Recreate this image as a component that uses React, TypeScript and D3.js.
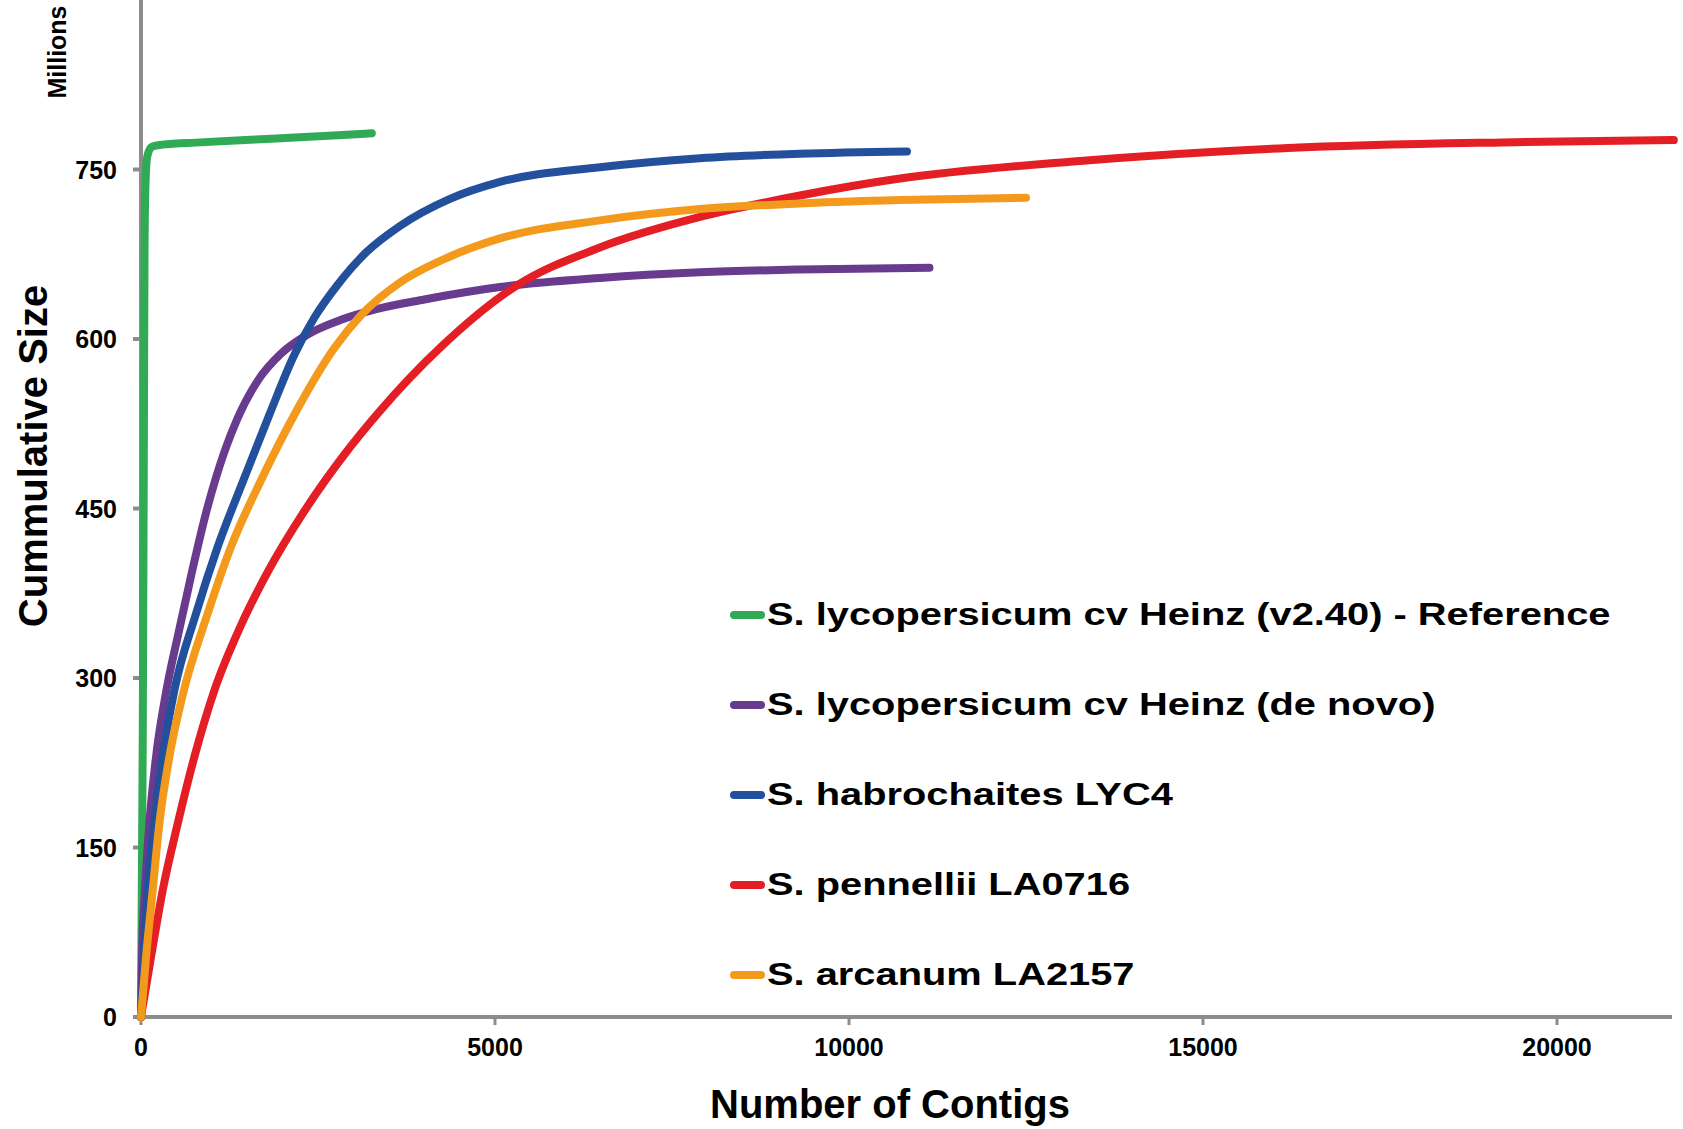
import React from "react";
import * as d3 from "d3";

// ---- data (contigs, cumulative size in millions) ----
const xTicks = [0, 5000, 10000, 15000, 20000];
const yTicks = [0, 150, 300, 450, 600, 750];

const seriesNames = [
  "S. lycopersicum cv Heinz (v2.40) - Reference",
  "S. lycopersicum cv Heinz (de novo)",
  "S. habrochaites LYC4",
  "S. pennellii LA0716",
  "S. arcanum LA2157",
];
const seriesColors = ["#31aa55", "#683b8f", "#22509d", "#e31e25", "#f39a1d"];

const heinzReference: [number, number][] = [
  [0, 0], [25, 250], [40, 500], [50, 680], [65, 740], [90, 762], [150, 770],
  [300, 772], [833, 774], [1775, 777], [2716, 780], [3260, 782],
];
const heinzDeNovo: [number, number][] = [
  [0, 0], [14, 53], [56, 112], [118, 171], [212, 230], [353, 287], [530, 340],
  [706, 390], [918, 446], [1177, 500], [1365, 530], [1648, 563], [1977, 587],
  [2354, 604], [2825, 617], [3296, 626], [4002, 635], [5070, 646], [6482, 654],
  [7895, 659], [9307, 661.5], [11137, 663],
];
const habrochaites: [number, number][] = [
  [0, 0], [94, 112], [188, 171], [306, 230], [471, 289], [777, 357], [1083, 416],
  [1459, 477], [1813, 533], [2166, 586], [2450, 619], [2778, 648], [3187, 677],
  [3658, 700], [4364, 724], [5070, 739], [6482, 752], [7895, 760], [9307, 764],
  [10819, 766],
];
const pennellii: [number, number][] = [
  [0, 0], [141, 53], [306, 112], [518, 171], [753, 230], [1036, 289], [1400, 345],
  [1800, 395], [2300, 447], [2900, 500], [3343, 534], [4237, 593], [5300, 647],
  [6482, 681], [7895, 708], [9307, 727], [10719, 742], [13167, 757],
  [16200, 769], [19230, 774], [21650, 776],
];
const arcanum: [number, number][] = [
  [0, 0], [71, 53], [165, 112], [259, 171], [400, 230], [589, 285], [942, 357],
  [1271, 416], [1695, 475], [2166, 533], [2731, 592], [3107, 621], [3658, 650],
  [4364, 673], [5070, 689], [6482, 705], [7895, 715], [9307, 720],
  [10719, 723], [12500, 725],
];

const seriesData = [heinzReference, heinzDeNovo, habrochaites, pennellii, arcanum];

const FONT = "'Liberation Sans', Arial, Helvetica, sans-serif";
const AXIS = "#8c8c8c";

export default function App() {
  const W = 1683;
  const H = 1129;
  const x0 = 141;
  const xEnd = 1672;
  const yTop = 0;
  const yBottom = 1017;

  const x = d3.scaleLinear().domain([0, 5000]).range([x0, x0 + 354]);
  const y = d3.scaleLinear().domain([0, 900]).range([yBottom, yTop]);

  const line = d3
    .line<[number, number]>()
    .x((d) => x(d[0]))
    .y((d) => y(d[1]))
    .curve(d3.curveMonotoneX);

  const legendX = 730;
  const legendY0 = 625;
  const legendStep = 90;

  return (
    <svg
      width={W}
      height={H}
      style={{ position: "absolute", left: 0, top: 0, display: "block", background: "#fff" }}
      fontFamily={FONT}
      fontWeight="bold"
    >
      <rect x={0} y={0} width={W} height={H} fill="#fff" />

      {/* axes */}
      <line x1={x0} x2={x0} y1={0} y2={yBottom + 2} stroke={AXIS} strokeWidth={4} />
      <line x1={x0 - 2} x2={xEnd} y1={yBottom} y2={yBottom} stroke={AXIS} strokeWidth={4} />

      {yTicks.map((t) => (
        <g key={"y" + t}>
          <line x1={x0 - 8} x2={x0} y1={y(t)} y2={y(t)} stroke={AXIS} strokeWidth={4} />
          <text x={117} y={y(t)} dy="0.36em" textAnchor="end" fontSize={25} fill="#000">
            {t}
          </text>
        </g>
      ))}
      {xTicks.map((t) => (
        <g key={"x" + t}>
          <line x1={x(t)} x2={x(t)} y1={yBottom} y2={yBottom + 8} stroke={AXIS} strokeWidth={3} />
          <text x={x(t)} y={1056} textAnchor="middle" fontSize={25} fill="#000">
            {t}
          </text>
        </g>
      ))}

      {/* titles */}
      <text x={890} y={1118} textAnchor="middle" fontSize={40} fill="#000">
        Number of Contigs
      </text>
      <text
        transform={`translate(47,456) rotate(-90)`}
        textAnchor="middle"
        fontSize={40}
        fill="#000"
      >
        Cummulative Size
      </text>
      <text
        transform={`translate(66,52) rotate(-90)`}
        textAnchor="middle"
        fontSize={25}
        fill="#000"
      >
        Millions
      </text>

      {/* series */}
      {seriesData.map((d, i) => (
        <path
          key={"s" + i}
          d={line(d) || ""}
          fill="none"
          stroke={seriesColors[i]}
          strokeWidth={8}
          strokeLinecap="round"
          strokeLinejoin="round"
        />
      ))}

      {/* legend */}
      {seriesNames.map((name, i) => {
        const by = legendY0 + i * legendStep;
        return (
          <g key={"l" + i}>
            <line
              x1={legendX + 4}
              x2={legendX + 31}
              y1={by - 10}
              y2={by - 10}
              stroke={seriesColors[i]}
              strokeWidth={8}
              strokeLinecap="round"
            />
            <text
              transform={`translate(${legendX + 37},${by}) scale(1.245,1)`}
              fontSize={32}
              fill="#000"
            >
              {name}
            </text>
          </g>
        );
      })}
    </svg>
  );
}
